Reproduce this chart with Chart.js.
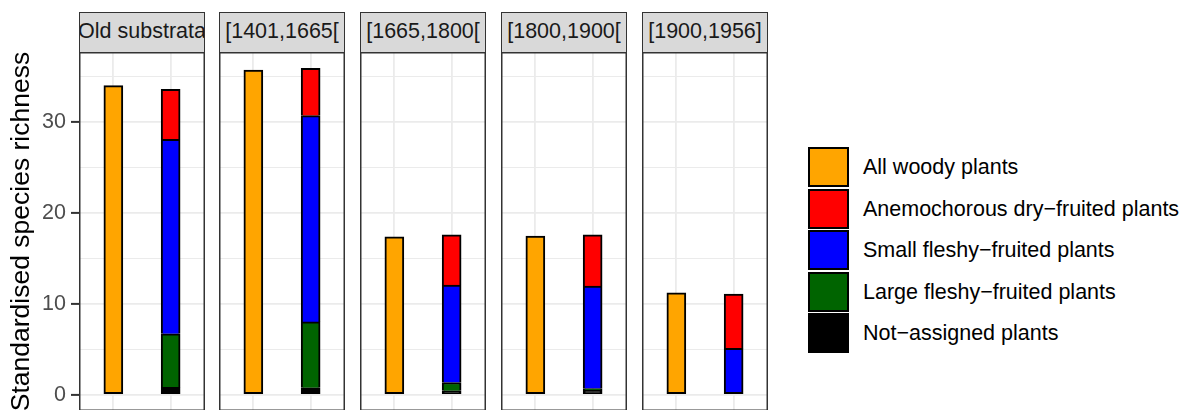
<!DOCTYPE html>
<html>
<head>
<meta charset="utf-8">
<script src="https://cdn.jsdelivr.net/npm/chart.js@4/dist/chart.umd.min.js"></script>
<style>
  html, body { margin: 0; padding: 0; background: #ffffff; }
  #fig { position: relative; width: 1190px; height: 410px; overflow: hidden; background: #ffffff;
         font-family: 'Liberation Sans', Arial, sans-serif; }
  canvas { position: absolute; display: block; }
  .strip { position: absolute; box-sizing: border-box; background: #D9D9D9; border: 1.5px solid #333333;
           color: #1A1A1A; font-size: 21.5px; line-height: 37px; text-align: center; white-space: nowrap; overflow: hidden; }
  .strip span { display: inline-block; width: 200px; margin: 0 -100px; text-align: center; }
  .legend { position: absolute; left: 808px; top: 147px; }
  .legend .item { position: absolute; left: 0; height: 40px; white-space: nowrap; }
  .legend .key { position: absolute; left: 0; top: 0; width: 41px; height: 40px; box-sizing: border-box; border: 2px solid #000000; }
  .legend .text { position: absolute; left: 55px; top: 0; line-height: 40px; font-size: 21.5px; color: #000000; }
</style>
</head>
<body>
<div id="fig"></div>
<script>
// ---- data -------------------------------------------------------------
const periods = ['Old substrata', '[1401,1665[', '[1665,1800[', '[1800,1900[', '[1900,1956]'];
const allWoody     = [34.0, 35.7, 17.35, 17.45, 11.2];
const notAssigned  = [0.8, 0.75, 0.42, 0.5, 0];
const largeFleshy  = [5.9, 7.25, 0.92, 0.18, 0];
const smallFleshy  = [21.4, 22.7, 10.72, 11.27, 5.09];
const anemochorous = [5.5, 5.2, 5.51, 5.62, 5.98];
const yTickLabels  = [0, 10, 20, 30];
const yGridValues  = [0, 5, 10, 15, 20, 25, 30, 35];

// ---- series (stacking order bottom -> top for the second bar) ----------
const series = [
  { label: 'All woody plants',                    data: allWoody,     color: '#FFA500', slot: 1 },
  { label: 'Not\u2212assigned plants',            data: notAssigned,  color: '#000000', slot: 2 },
  { label: 'Large fleshy\u2212fruited plants',    data: largeFleshy,  color: '#006400', slot: 2 },
  { label: 'Small fleshy\u2212fruited plants',    data: smallFleshy,  color: '#0000FF', slot: 2 },
  { label: 'Anemochorous dry\u2212fruited plants', data: anemochorous, color: '#FF0000', slot: 2 }
];
const legendOrder = [0, 4, 3, 2, 1];

// ---- layout -----------------------------------------------------------
const panelLefts = [79, 219, 360, 501, 642];
const panelWidth = 126;
const panelTop = 52;
const stripTop = 12;
const axisWidth = 79;

Chart.defaults.font.family = "'Liberation Sans', Arial, sans-serif";

// shared y range with 5% expansion on both ends
const totals = periods.map((_, i) => series.filter(s => s.slot === 2).reduce((a, s) => a + s.data[i], 0));
const dataMax = Math.max(...allWoody, ...totals);
const yPad = dataMax * 0.05;
const yMin = -yPad, yMax = dataMax + yPad;
const pxPerUnit = 9.08;
const panelHeight = Math.round((yMax - yMin) * pxPerUnit);

const isMajor = v => v % 10 === 0;

// dark frame around each panel's plotting area
const panelFrame = {
  id: 'panelFrame',
  afterDraw(chart) {
    const { ctx, chartArea: a } = chart;
    ctx.save();
    ctx.strokeStyle = '#333333';
    ctx.lineWidth = 1.5;
    ctx.strokeRect(a.left + 0.75, a.top + 0.75, a.right - a.left - 1.5, a.bottom - a.top - 1.5);
    ctx.restore();
  }
};

const fig = document.getElementById('fig');

function baseOf(sIdx, i) {
  let b = 0;
  for (let k = 0; k < sIdx; k++) if (series[k].slot === series[sIdx].slot) b += series[k].data[i];
  return b;
}

periods.forEach((period, i) => {
  const withAxis = i === 0;
  // the first panel's canvas also carries the y axis and its title
  const left = withAxis ? 0 : panelLefts[i];
  const top = withAxis ? 0 : panelTop;
  const width = withAxis ? axisWidth + panelWidth : panelWidth;
  const height = withAxis ? panelTop + panelHeight : panelHeight;

  const canvas = document.createElement('canvas');
  canvas.width = width; canvas.height = height;
  canvas.style.left = left + 'px'; canvas.style.top = top + 'px';
  canvas.style.width = width + 'px'; canvas.style.height = height + 'px';
  fig.appendChild(canvas);

  const strip = document.createElement('div');
  strip.className = 'strip';
  strip.style.left = panelLefts[i] + 'px';
  strip.style.top = stripTop + 'px';
  strip.style.width = panelWidth + 'px';
  strip.style.height = (panelTop - stripTop + 1) + 'px';
  const label = document.createElement('span');
  label.textContent = period;
  strip.appendChild(label);
  fig.appendChild(strip);

  const datasets = series.map((s, k) => ({
    label: s.label,
    data: [{ x: s.slot, y: s.data[i] }],
    backgroundColor: s.color,
    borderColor: '#000000',
    borderWidth: 2,
    borderSkipped: baseOf(k, i) === 0 ? false : 'start',
    barThickness: 19,
    grouped: false
  }));

  new Chart(canvas, {
    type: 'bar',
    data: { datasets },
    options: {
      responsive: false,
      animation: false,
      events: [],
      layout: { padding: { top: withAxis ? panelTop : 0, left: 0, right: 0, bottom: 0 }, autoPadding: false },
      plugins: { legend: { display: false }, tooltip: { enabled: false } },
      scales: {
        x: {
          type: 'linear', min: 0.4, max: 2.6, stacked: true, offset: false,
          afterBuildTicks: sc => { sc.ticks = [{ value: 1 }, { value: 2 }]; },
          ticks: { display: false },
          grid: { color: '#EBEBEB', lineWidth: 1.8, drawTicks: false, offset: false },
          border: { display: false },
          afterFit: sc => { sc.height = 0; sc.paddingLeft = 0; sc.paddingRight = 0; }
        },
        y: {
          type: 'linear', min: yMin, max: yMax, stacked: true,
          afterBuildTicks: sc => { sc.ticks = yGridValues.map(v => ({ value: v })); },
          ticks: {
            display: withAxis, autoSkip: false, padding: 5,
            color: '#4D4D4D', font: { size: 21.5 },
            callback: v => (yTickLabels.includes(v) ? String(v) : '')
          },
          grid: {
            color: '#EBEBEB',
            lineWidth: ctx => (ctx.tick && isMajor(ctx.tick.value) ? 1.8 : 1),
            drawTicks: withAxis, tickLength: 8, tickWidth: 2,
            tickColor: ctx => (ctx.tick && yTickLabels.includes(ctx.tick.value) ? '#333333' : 'rgba(0,0,0,0)')
          },
          border: { display: false },
          title: {
            display: withAxis, text: 'Standardised species richness',
            color: '#000000', font: { size: 26.5 }, padding: { top: 6, bottom: 0 }
          },
          afterFit: sc => { sc.width = withAxis ? axisWidth : 0; sc.paddingTop = 0; sc.paddingBottom = 0; }
        }
      }
    },
    plugins: [panelFrame]
  });
});

// ---- legend (built from the series definitions) -----------------------
const legend = document.createElement('div');
legend.className = 'legend';
legendOrder.forEach((k, row) => {
  const s = series[k];
  const item = document.createElement('div');
  item.className = 'item';
  item.style.top = Math.round(row * 41.5) + 'px';
  const key = document.createElement('div');
  key.className = 'key';
  key.style.background = s.color;
  const text = document.createElement('div');
  text.className = 'text';
  text.textContent = s.label;
  item.appendChild(key); item.appendChild(text);
  legend.appendChild(item);
});
fig.appendChild(legend);
</script>
</body>
</html>
